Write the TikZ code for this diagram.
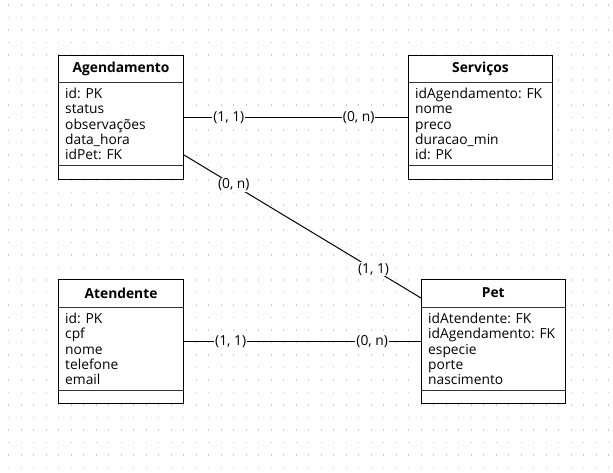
\documentclass[tikz,border=0pt]{standalone}
\usepackage{fontspec}
\setmainfont{Open Sans}
\usetikzlibrary{calc}
\definecolor{dotc}{RGB}{205,205,205}
\begin{document}
\begin{tikzpicture}[x=1pt,y=-1pt,
  ent/.style={draw=black,fill=white,line width=1pt,anchor=north west,inner sep=0pt,minimum height=124pt},
  sepl/.style={draw=black!80,line width=1pt},
  hdr/.style={inner sep=0pt,font=\fontsize{13.8}{15}\selectfont\bfseries},
  attr/.style={inner sep=0pt,anchor=west,align=left,font=\fontsize{13.8}{15.2}\selectfont},
  conn/.style={draw=black,line width=1pt},
  lbl/.style={fill=white,inner sep=1pt,font=\fontsize{13.8}{15}\selectfont}]
\useasboundingbox (0,0) rectangle (613,473);
\fill[white] (0,0) rectangle (613,473);
\foreach \i in {0,...,48}{\foreach \j in {0,...,37}{
  \fill[dotc] ({8.75+12.5*\i-0.6},{5+12.5*\j-0.6}) rectangle ++(1.2,1.2);}}
% Agendamento
\node[ent,minimum width=125pt] (ag) at (58,55) {};
\draw[sepl] ($(ag.north west)+(0,28)$) -- ($(ag.north east)+(0,28)$);
\draw[sepl] ($(ag.south west)+(0,-14)$) -- ($(ag.south east)+(0,-14)$);
\node[hdr] (agt) at ($(ag.north)+(0,14)$) {Agendamento};
\node[attr] (aga) at ($(ag.north west)+(7,69)$) {id: PK\\status\\observações\\data\_hora\\idPet: FK};
% Servicos
\node[ent,minimum width=144pt] (sv) at (408,55) {};
\draw[sepl] ($(sv.north west)+(0,28)$) -- ($(sv.north east)+(0,28)$);
\draw[sepl] ($(sv.south west)+(0,-14)$) -- ($(sv.south east)+(0,-14)$);
\node[hdr] (svt) at ($(sv.north)+(0,14)$) {Serviços};
\node[attr] (sva) at ($(sv.north west)+(7,69)$) {idAgendamento: FK\\nome\\preco\\duracao\_min\\id: PK};
% Atendente
\node[ent,minimum width=125pt] (at) at (58,279) {};
\draw[sepl] ($(at.north west)+(0,28)$) -- ($(at.north east)+(0,28)$);
\draw[sepl] ($(at.south west)+(0,-14)$) -- ($(at.south east)+(0,-14)$);
\node[hdr] (att) at ($(at.north)+(0,14)$) {Atendente};
\node[attr] (ata) at ($(at.north west)+(7,70)$) {id: PK\\cpf\\nome\\telefone\\email};
% Pet
\node[ent,minimum width=143.5pt] (pet) at (421,279) {};
\draw[sepl] ($(pet.north west)+(0,28)$) -- ($(pet.north east)+(0,28)$);
\draw[sepl] ($(pet.south west)+(0,-14)$) -- ($(pet.south east)+(0,-14)$);
\node[hdr] (pett) at ($(pet.north)+(0,14)$) {Pet};
\node[attr] (peta) at ($(pet.north west)+(7,70)$) {idAtendente: FK\\idAgendamento: FK\\especie\\porte\\nascimento};
% connectors
\draw[conn] (ag.east) -- node[lbl,pos=0.2] (l1) {(1, 1)} node[lbl,pos=0.78] (l2) {(0, n)} (sv.west);
\draw[conn] (at.east) -- node[lbl,pos=0.197] (l3) {(1, 1)} node[lbl,pos=0.794] (l4) {(0, n)} (pet.west);
\draw[conn] ($(ag.north east)!0.8!(ag.south east)$) -- node[lbl,pos=0.21] (l5) {(0, n)} node[lbl,pos=0.8] (l6) {(1, 1)} ($(pet.north west)+(0,19)$);
\end{tikzpicture}
\end{document}
